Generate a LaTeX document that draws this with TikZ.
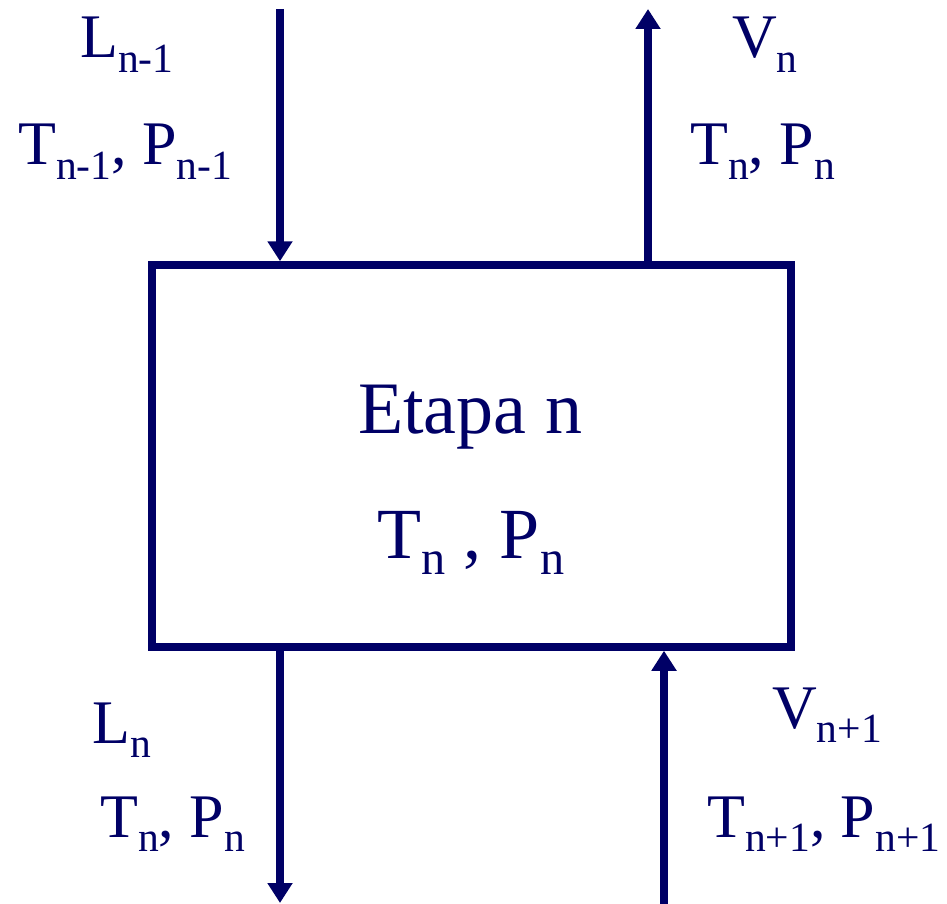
\documentclass[tikz,border=0pt]{standalone}
\usepackage{fontspec}
\setmainfont{Liberation Serif}
\usepackage{graphicx}
\usepackage{tikz}
\usetikzlibrary{arrows.meta,positioning}
\definecolor{navy}{RGB}{0,0,102}
% lowered subscript in text font
\newcommand{\dn}[1]{\raisebox{-0.23em}{\scalebox{0.67}{#1}}}
\tikzstyle{stage} = [rectangle, draw=navy, line width=7.5pt, inner sep=0pt,
                     minimum width=639pt, minimum height=382pt]
\tikzstyle{lbl} = [anchor=base west, inner sep=0pt, text=navy,
                   font=\fontsize{62}{70}\selectfont]
\tikzstyle{mid} = [anchor=base, inner sep=0pt, text=navy]
\tikzstyle{arrow} = [-{Triangle[length=20pt,width=24pt]}, draw=navy, line width=7.5pt]

\begin{document}
\begin{tikzpicture}[x=1pt, y=-1pt]
    \useasboundingbox (0,0) rectangle (947,904);
    \node [stage] (etapa) at (471.5,456) {};
    \node [mid, font=\fontsize{74}{80}\selectfont] (titulo) at (470,433) {Etapa n};
    \node [mid, font=\fontsize{72}{78}\selectfont] (estado) at (471,558) {T\dn{n} , P\dn{n}};

    % corrientes
    \coordinate (lin) at (280,9);
    \coordinate (vout) at (648,9);
    \coordinate (lout) at (280,903);
    \coordinate (vin) at (664,904);

    \node [lbl] (lnm1) at (80,58) {L\dn{n-1}};
    \node [lbl] (tpnm1) at (18,165) {T\dn{n-1}, P\dn{n-1}};
    \node [lbl] (vn) at (732,58) {V\dn{n}};
    \node [lbl] (tpvn) at (690,165) {T\dn{n}, P\dn{n}};
    \node [lbl] (ln) at (92,743) {L\dn{n}};
    \node [lbl] (tpln) at (100,837) {T\dn{n}, P\dn{n}};
    \node [lbl] (vnp1) at (772,728) {V\dn{n+1}};
    \node [lbl] (tpnp1) at (707,837) {T\dn{n+1}, P\dn{n+1}};

    \draw [arrow] (lin) -- (lin |- etapa.north);
    \draw [arrow] (vout |- etapa.north) -- (vout);
    \draw [arrow] (lout |- etapa.south) -- (lout);
    \draw [arrow] (vin) -- (vin |- etapa.south);
  \end{tikzpicture}
\end{document}
